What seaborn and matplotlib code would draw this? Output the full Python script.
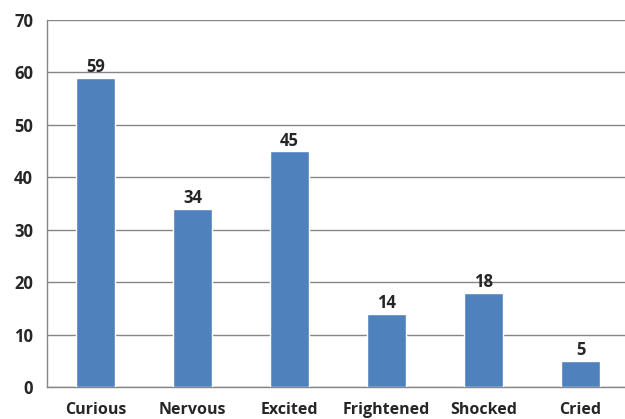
import matplotlib
matplotlib.use("Agg")
import matplotlib.pyplot as plt
import seaborn as sns
import pandas as pd
import numpy as np

categories = ["Curious", "Nervous", "Excited", "Frightened", "Shocked", "Cried"]
values = [59, 34, 45, 14, 18, 5]
y_ticks = [0, 10, 20, 30, 40, 50, 60, 70]

sns.set_style("white")
plt.rcParams["font.family"] = ["Open Sans", "DejaVu Sans"]

df = pd.DataFrame({"feeling": categories, "count": values})

fig = plt.figure(figsize=(6.25, 4.19), dpi=100)
ax = fig.add_axes([47 / 625, 32 / 419, 582 / 625, 367 / 419])

sns.barplot(data=df, x="feeling", y="count", color="#4F81BD", width=0.4,
            saturation=1, ax=ax, zorder=3)

ax.set_ylim(0, 70)
ax.set_xlim(-0.5, len(categories) - 0.5)
ax.set_yticks(y_ticks)
ax.set_yticklabels([str(t) for t in y_ticks], fontsize=12, fontweight="bold")
ax.set_xticks(range(len(categories)))
ax.set_xticklabels(categories, fontsize=11.5, fontweight="bold")
ax.set_xlabel("")
ax.set_ylabel("")

# category boundary ticks on the x axis
ax.set_xticks(np.arange(-0.5, len(categories), 1.0), minor=True)
ax.tick_params(axis="x", which="major", length=0, pad=11)
ax.tick_params(axis="x", which="minor", length=5, color="#868686", width=1)
ax.tick_params(axis="y", length=5, color="#868686", width=1, pad=5)

ax.grid(axis="y", color="#868686", linewidth=1, zorder=0)
ax.set_axisbelow(True)
for side in ("top", "right"):
    ax.spines[side].set_visible(False)
for side in ("left", "bottom"):
    ax.spines[side].set_color("#868686")
    ax.spines[side].set_linewidth(1)

ax.bar_label(ax.containers[0], labels=[str(v) for v in values],
             fontsize=12, fontweight="bold", padding=1)

fig.savefig("out.png", dpi=100)
